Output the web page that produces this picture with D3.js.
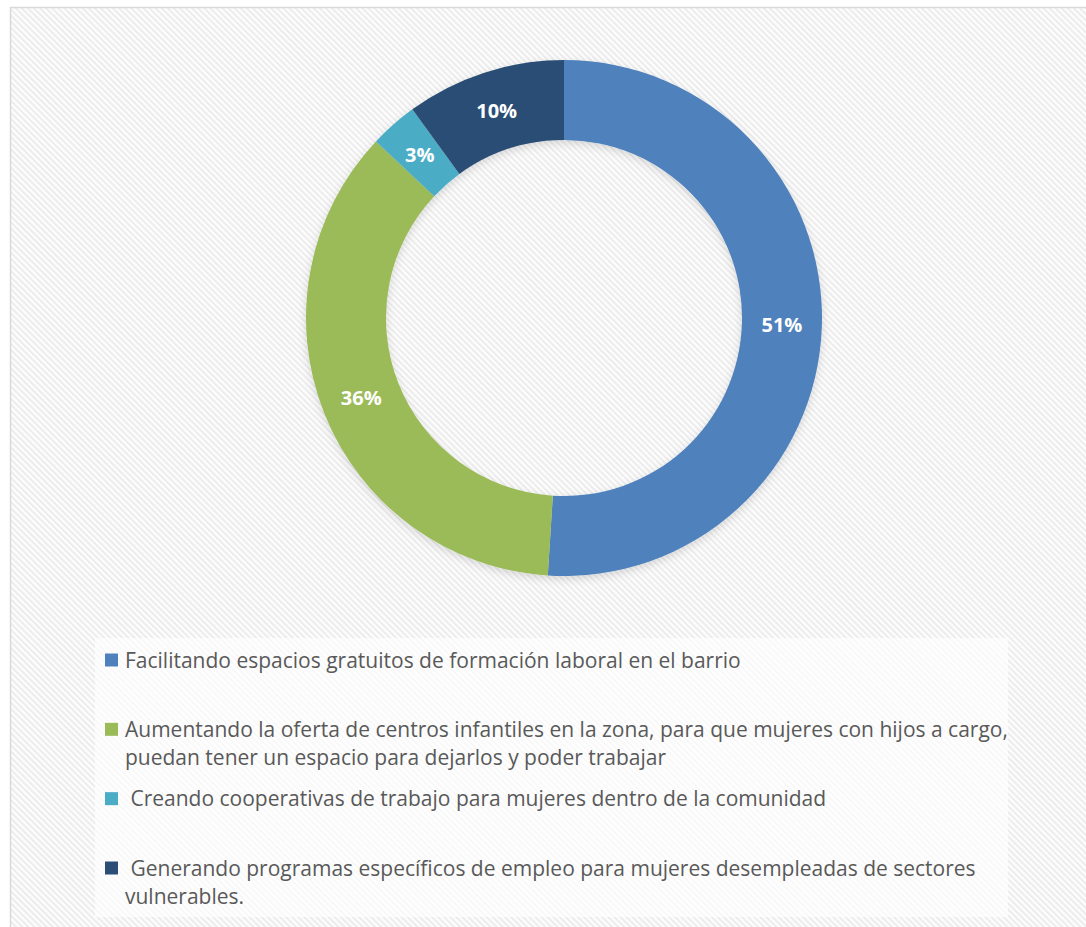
<!DOCTYPE html>
<html>
<head>
<meta charset="utf-8">
<script src="https://cdn.jsdelivr.net/npm/d3@7"></script>
<style>
  body { margin: 0; background: #fff; }
  svg text { font-family: "Open Sans", "Noto Sans", sans-serif; }
</style>
</head>
<body>
<div id="chart"></div>
<script>
// data
var categories = [
  "Facilitando espacios gratuitos de formación laboral en el barrio",
  "Aumentando la oferta de centros infantiles en la zona, para que mujeres con hijos a cargo, puedan tener un espacio para dejarlos y poder trabajar",
  "Creando cooperativas de trabajo para mujeres dentro de la comunidad",
  "Generando programas específicos de empleo para mujeres desempleadas de sectores vulnerables."
];
var values = [51, 36, 3, 10];
var labels = ["51%", "36%", "3%", "10%"];
var colors = ["#4f81bd", "#9bbb59", "#4bacc6", "#2c4d75"];
// legend text as shown, line by line
var legendLines = [
  ["Facilitando espacios gratuitos de formación laboral en el barrio"],
  ["Aumentando la oferta de centros infantiles en la zona, para que mujeres con hijos a cargo,",
   "puedan tener un espacio para dejarlos y poder trabajar"],
  [" Creando cooperativas de trabajo para mujeres dentro de la comunidad"],
  [" Generando programas específicos de empleo para mujeres desempleadas de sectores",
   "vulnerables."]
];

var width = 1086, height = 927;
var cx = 564, cy = 318, outerR = 258, innerR = 178;

var svg = d3.select("#chart")
  .append("svg")
    .attr("width", width)
    .attr("height", height);

var defs = svg.append("defs");

// diagonal hatch background
var pat = defs.append("pattern")
  .attr("id", "hatch")
  .attr("patternUnits", "userSpaceOnUse")
  .attr("width", 4.3)
  .attr("height", 4.3)
  .attr("patternTransform", "rotate(-45)");
pat.append("rect").attr("width", 4.3).attr("height", 4.3).attr("fill", "#fdfdfd");
pat.append("rect").attr("width", 2).attr("height", 4.3).attr("fill", "#ececec");

var shadow = defs.append("filter")
  .attr("id", "shadow")
  .attr("x", "-20%").attr("y", "-20%")
  .attr("width", "140%").attr("height", "140%");
shadow.append("feDropShadow")
  .attr("dx", 0).attr("dy", 3)
  .attr("stdDeviation", 4)
  .attr("flood-color", "#000")
  .attr("flood-opacity", 0.14);

svg.append("rect")
  .attr("width", width).attr("height", height)
  .attr("fill", "#fff");

// chart area with frame
svg.append("rect")
  .attr("x", 10.5).attr("y", 7.5)
  .attr("width", width + 20).attr("height", height + 20)
  .attr("fill", "url(#hatch)")
  .attr("stroke", "#d9d9d9")
  .attr("stroke-width", 1.5);

// donut
var pie = d3.pie().sort(null).value(function(d) { return d; });
var arc = d3.arc().innerRadius(innerR).outerRadius(outerR);
var arcs = pie(values);

var g = svg.append("g")
  .attr("transform", "translate(" + cx + "," + cy + ")");

g.append("g")
  .attr("filter", "url(#shadow)")
  .selectAll("path")
  .data(arcs)
  .enter()
  .append("path")
    .attr("d", arc)
    .attr("fill", function(d, i) { return colors[i]; });

g.selectAll(".lbl")
  .data(arcs)
  .enter()
  .append("text")
    .attr("class", "lbl")
    .attr("transform", function(d) { return "translate(" + arc.centroid(d) + ")"; })
    .attr("text-anchor", "middle")
    .attr("dy", "0.36em")
    .style("font-size", "20px")
    .style("font-weight", "bold")
    .style("fill", "#fff")
    .text(function(d, i) { return labels[i]; });

// legend
svg.append("rect")
  .attr("x", 95).attr("y", 638)
  .attr("width", 913).attr("height", 279)
  .attr("fill", "#fff")
  .attr("opacity", 0.65);

var ly = d3.scalePoint()
  .domain(d3.range(categories.length))
  .range([660, 868]);

var legend = svg.append("g");

var item = legend.selectAll(".item")
  .data(categories)
  .enter()
  .append("g")
    .attr("class", "item")
    .attr("transform", function(d, i) { return "translate(105," + ly(i) + ")"; });

item.append("rect")
  .attr("x", 0).attr("y", -6.5)
  .attr("width", 13).attr("height", 13)
  .attr("fill", function(d, i) { return colors[i]; });

item.append("text")
  .attr("x", 20)
  .attr("y", 0)
  .style("font-size", "21px")
  .style("fill", "#595959")
  .style("white-space", "pre")
  .attr("xml:space", "preserve")
  .selectAll("tspan")
  .data(function(d, i) { return legendLines[i]; })
  .enter()
  .append("tspan")
    .attr("x", 20)
    .attr("dy", function(d, j) { return j === 0 ? "0.36em" : "28px"; })
    .text(function(d) { return d; });
</script>
</body>
</html>
